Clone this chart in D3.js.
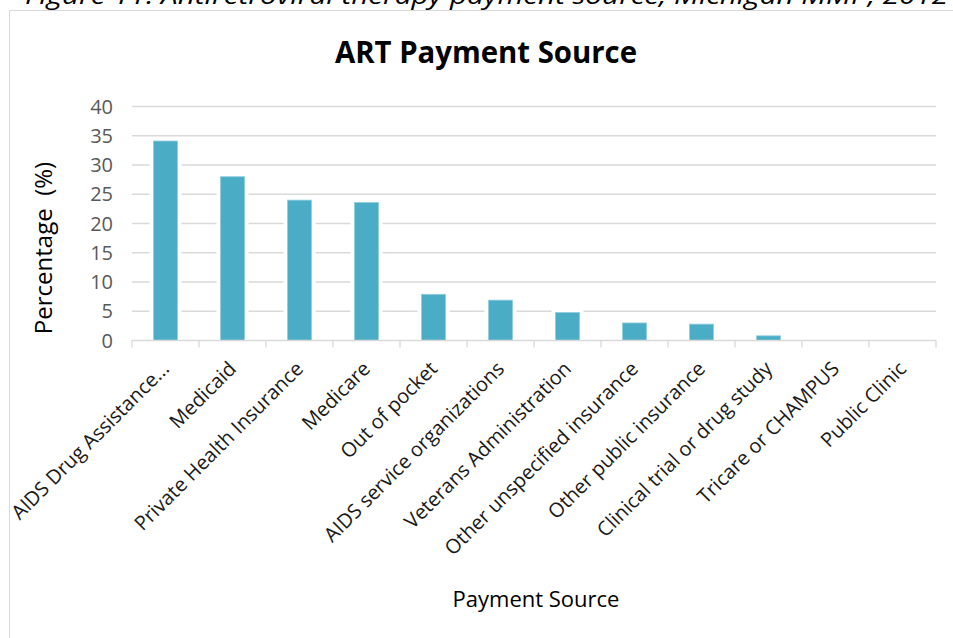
<!DOCTYPE html>
<html>
<head>
<meta charset="utf-8">
<script src="https://cdn.jsdelivr.net/npm/d3@7"></script>
<style>
  html, body { margin: 0; padding: 0; background: #ffffff; }
  svg { display: block; }
  text { font-family: "Open Sans", "DejaVu Sans", sans-serif; }
</style>
</head>
<body>
<script>
// Payment sources for antiretroviral therapy and share of patients (%)
const categories = [
  "AIDS Drug Assistance...",
  "Medicaid",
  "Private Health Insurance",
  "Medicare",
  "Out of pocket",
  "AIDS service organizations",
  "Veterans Administration",
  "Other unspecified insurance",
  "Other public insurance",
  "Clinical trial or drug study",
  "Tricare or CHAMPUS",
  "Public Clinic"
];
const values = [34.1, 28.0, 24.0, 23.6, 7.9, 6.9, 4.8, 3.0, 2.8, 0.8, 0, 0];
const yTicks = [0, 5, 10, 15, 20, 25, 30, 35, 40];

const captionText = "Figure 11: Antiretroviral therapy payment source, Michigan MMP, 2012";
const chartTitle = "ART Payment Source";
const xTitle = "Payment Source";
const yTitle = "Percentage\u00a0\u00a0(%)";

const W = 953, H = 638;
const plot = { left: 132, right: 936, top: 106.5, bottom: 340.5 };

const svg = d3.select("body").append("svg")
  .attr("width", W).attr("height", H);

// Document caption, running off the top edge
svg.append("text")
  .attr("x", 25).attr("y", 4)
  .attr("textLength", 923).attr("lengthAdjust", "spacingAndGlyphs")
  .style("font-style", "italic")
  .style("font-size", "24px")
  .attr("fill", "#000")
  .text(captionText);

// Chart frame
svg.append("rect")
  .attr("x", 9.5).attr("y", 10.5)
  .attr("width", 960).attr("height", 700)
  .attr("fill", "#fff")
  .attr("stroke", "#d9d9d9").attr("stroke-width", 1);

// Title
svg.append("text")
  .attr("x", 486).attr("y", 63)
  .attr("text-anchor", "middle")
  .attr("textLength", 302).attr("lengthAdjust", "spacingAndGlyphs")
  .style("font-size", "31px").style("font-weight", "bold")
  .attr("fill", "#000")
  .text(chartTitle);

const x = d3.scaleBand().domain(categories).range([plot.left, plot.right]).padding(0);
const y = d3.scaleLinear().domain([0, 40]).range([plot.bottom, plot.top]);

// Horizontal gridlines
svg.append("g").selectAll("line")
  .data(yTicks.filter(t => t > 0))
  .join("line")
  .attr("x1", plot.left).attr("x2", plot.right)
  .attr("y1", d => y(d)).attr("y2", d => y(d))
  .attr("stroke", "#d9d9d9").attr("stroke-width", 1.3);

// Y tick labels
svg.append("g").selectAll("text")
  .data(yTicks)
  .join("text")
  .attr("x", 113).attr("y", d => y(d) + 7)
  .attr("text-anchor", "end")
  .style("font-size", "20px")
  .attr("fill", "#595959")
  .text(d => d);

// Bars with a white halo that interrupts the gridlines
const barW = x.bandwidth() * 0.36;
const bars = svg.append("g");
bars.selectAll("rect.halo")
  .data(categories.map((c, i) => ({ c, v: values[i] })).filter(d => d.v > 0))
  .join("rect")
  .attr("class", "halo")
  .attr("x", d => x(d.c) + x.bandwidth() / 2 - barW / 2 - 4)
  .attr("y", d => y(d.v) - 4)
  .attr("width", barW + 8)
  .attr("height", d => y(0) - y(d.v) + 4)
  .attr("fill", "#fff");
bars.selectAll("rect.bar")
  .data(categories.map((c, i) => ({ c, v: values[i] })))
  .join("rect")
  .attr("class", "bar")
  .attr("x", d => x(d.c) + x.bandwidth() / 2 - barW / 2)
  .attr("y", d => y(d.v))
  .attr("width", barW)
  .attr("height", d => y(0) - y(d.v))
  .attr("fill", "#4bacc6")
  .attr("stroke", "#93cfdf").attr("stroke-width", 0.8);

// Category axis: baseline and ticks at category boundaries
const axis = svg.append("g");
axis.append("line")
  .attr("x1", plot.left).attr("x2", plot.right)
  .attr("y1", y(0)).attr("y2", y(0))
  .attr("stroke", "#d9d9d9").attr("stroke-width", 1.3);
const bounds = categories.map(c => x(c)).concat([plot.right]);
axis.selectAll("line.tick")
  .data(bounds)
  .join("line")
  .attr("class", "tick")
  .attr("x1", d => d).attr("x2", d => d)
  .attr("y1", y(0)).attr("y2", y(0) + 7)
  .attr("stroke", "#d9d9d9").attr("stroke-width", 1.3);

// Rotated category labels
svg.append("g").selectAll("text")
  .data(categories)
  .join("text")
  .attr("transform", d => `translate(${x(d) + x.bandwidth() / 2 + 5},${370}) rotate(-45)`)
  .attr("text-anchor", "end")
  .style("font-size", "20px")
  .attr("fill", "#1a1a1a")
  .text(d => d);

// Axis titles
svg.append("text")
  .attr("x", 536).attr("y", 607)
  .attr("text-anchor", "middle")
  .style("font-size", "22px")
  .attr("fill", "#000")
  .text(xTitle);

svg.append("text")
  .attr("transform", "translate(52,248) rotate(-90)")
  .attr("text-anchor", "middle")
  .style("font-size", "24px")
  .attr("fill", "#000")
  .text(yTitle);
</script>
</body>
</html>
